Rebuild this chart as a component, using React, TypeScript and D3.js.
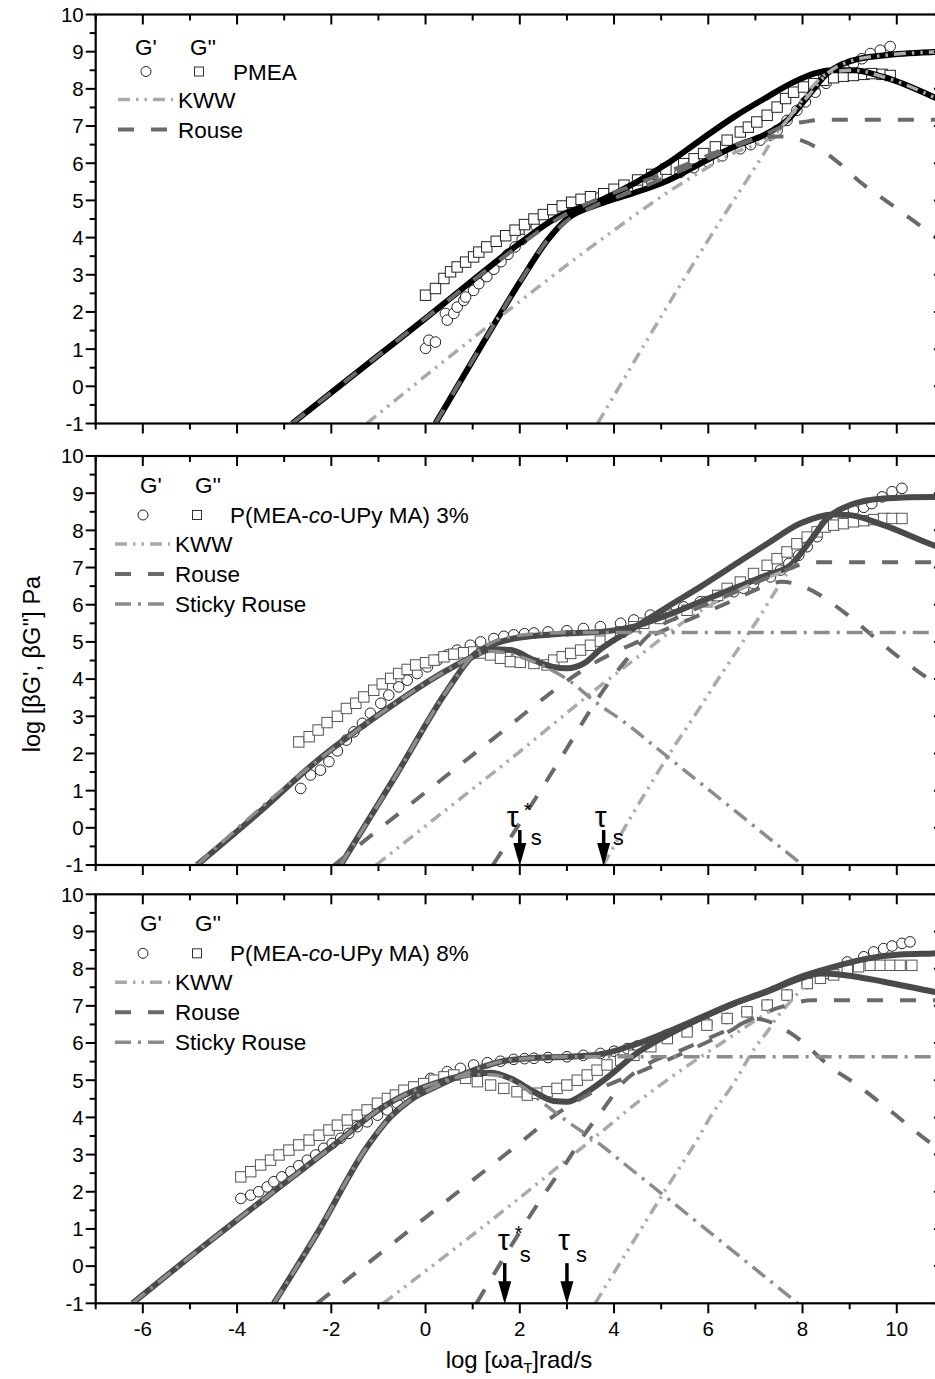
import React from 'react';
import * as d3 from 'd3';

type Pt = [number, number];

const W = 935;
const H = 1379;
const panelTops = [14.5, 456, 894.3];
const panelH = 409;
const xLeft = 95.7;
const xRight = 943.9;

// axis ticks
const xMajor = [-6, -4, -2, 0, 2, 4, 6, 8, 10];
const xMinor = [-7, -5, -3, -1, 1, 3, 5, 7, 9, 11];
const yMajor = [-1, 0, 1, 2, 3, 4, 5, 6, 7, 8, 9, 10];
const yMinor = [-0.5, 0.5, 1.5, 2.5, 3.5, 4.5, 5.5, 6.5, 7.5, 8.5, 9.5];

// ---------- top panel: PMEA ----------
const pmeaGp: Pt[] = [
  [0, 1.02], [0.07, 1.24], [0.21, 1.19], [0.42, 1.96], [0.46, 1.78], [0.6, 1.96], [0.67, 2.13],
  [0.81, 2.31], [0.85, 2.4], [1.02, 2.58], [1.13, 2.76], [1.3, 2.95], [1.45, 3.15], [1.6, 3.35],
  [1.75, 3.55], [1.9, 3.75], [2.05, 3.95], [2.2, 4.15], [2.35, 4.3], [2.5, 4.45], [2.65, 4.6],
  [2.8, 4.72], [2.95, 4.82], [3.1, 4.9], [3.25, 4.95], [3.4, 5.0], [3.55, 5.05], [3.7, 5.08],
  [3.85, 5.09], [4.14, 5.2], [4.5, 5.35], [4.8, 5.5], [5.13, 5.62], [5.4, 5.75], [5.69, 5.88],
  [6.0, 6.03], [6.3, 6.2], [6.68, 6.39], [6.9, 6.5], [7.1, 6.62], [7.3, 6.75], [7.46, 6.88],
  [7.67, 7.15], [7.88, 7.42], [8.06, 7.65], [8.27, 7.91], [8.5, 8.15], [8.7, 8.35], [8.9, 8.52],
  [9.08, 8.68], [9.26, 8.81], [9.44, 8.95], [9.65, 9.04], [9.86, 9.14],
];
const pmeaGpp: Pt[] = [
  [0, 2.45], [0.21, 2.63], [0.39, 2.9], [0.53, 3.08], [0.67, 3.21], [0.85, 3.34], [1.02, 3.48],
  [1.13, 3.61], [1.3, 3.75], [1.5, 3.9], [1.7, 4.05], [1.9, 4.2], [2.1, 4.35], [2.3, 4.5],
  [2.5, 4.62], [2.7, 4.75], [2.9, 4.85], [3.1, 4.95], [3.3, 5.03], [3.5, 5.1], [3.78, 5.18],
  [4.0, 5.3], [4.21, 5.41], [4.5, 5.55], [4.8, 5.7], [5.1, 5.84], [5.48, 5.99], [5.7, 6.12],
  [5.9, 6.26], [6.15, 6.44], [6.4, 6.62], [6.68, 6.84], [6.85, 6.97], [7.03, 7.11], [7.25, 7.29],
  [7.46, 7.51], [7.64, 7.74], [7.81, 7.91], [8.02, 8.05], [8.24, 8.14], [8.45, 8.23], [8.66, 8.3],
  [8.87, 8.34], [9.08, 8.36], [9.3, 8.39], [9.47, 8.41], [9.69, 8.39], [9.86, 8.36],
];
const pmeaFitGp: Pt[] = [
  [0.21, -1], [1.17, 1.06], [2.0, 2.8], [2.6, 3.95], [3.0, 4.5], [3.71, 4.91], [4.42, 5.2],
  [5.13, 5.53], [5.83, 5.99], [6.54, 6.44], [7.25, 6.8], [7.67, 7.15], [8.1, 7.78], [8.52, 8.41],
  [9.08, 8.77], [9.72, 8.9], [10.78, 8.99], [11, 9.0],
];
const pmeaFitGpp: Pt[] = [
  [-2.83, -1], [-1, 0.83], [0, 1.83], [1, 2.85], [2, 3.85], [2.8, 4.55], [3.71, 5.0], [4.42, 5.45],
  [5.13, 5.99], [5.83, 6.62], [6.54, 7.24], [7.25, 7.78], [7.81, 8.18], [8.24, 8.41], [8.66, 8.5],
  [9.08, 8.5], [9.72, 8.32], [10.78, 7.78], [11, 7.65],
];
const pmeaKwwGp: Pt[] = [
  [3.65, -1], [6.04, 4.02], [7.18, 6.26], [7.46, 6.83], [7.67, 7.15], [8.1, 7.78], [8.52, 8.41],
  [9.08, 8.77], [9.72, 8.9], [10.78, 8.99], [11, 9.0],
];
const pmeaKwwGpp: Pt[] = [
  [-1.25, -1], [1.17, 1.46], [3.71, 3.93], [5.3, 5.35], [6.5, 6.25], [7.46, 6.83], [7.85, 7.45],
  [8.2, 8.05], [8.6, 8.45], [9.08, 8.5], [9.72, 8.32], [10.78, 7.78], [11, 7.65],
];
const pmeaRouseGp: Pt[] = [
  [0.21, -1], [1.17, 1.06], [2.0, 2.8], [2.6, 3.95], [3.0, 4.45], [3.5, 4.8], [4.5, 5.3],
  [5.5, 5.85], [6.5, 6.4], [7.25, 6.8], [7.74, 7.06], [8.02, 7.11], [8.4, 7.17], [11, 7.17],
];
const pmeaRouseGpp: Pt[] = [
  [-2.83, -1], [0, 1.83], [2, 3.8], [2.8, 4.5], [3.5, 4.95], [4.5, 5.45], [5.5, 5.95], [6.5, 6.45],
  [7.0, 6.65], [7.5, 6.72], [7.96, 6.62], [8.66, 6.12], [9.23, 5.49], [9.86, 4.91], [10.43, 4.38],
  [11, 3.85],
];

// ---------- middle panel: P(MEA-co-UPy MA) 3% ----------
const p3Gp: Pt[] = [
  [-2.65, 1.06], [-2.44, 1.42], [-2.23, 1.55], [-2.05, 1.78], [-1.87, 2.07], [-1.68, 2.36],
  [-1.52, 2.58], [-1.34, 2.81], [-1.17, 3.08], [-0.95, 3.35], [-0.78, 3.57], [-0.57, 3.79],
  [-0.39, 3.97], [-0.18, 4.15], [0.04, 4.33], [0.25, 4.51], [0.46, 4.65], [0.67, 4.78],
  [0.95, 4.91], [1.17, 5.0], [1.45, 5.09], [1.66, 5.15], [1.87, 5.19], [2.1, 5.22], [2.3, 5.24],
  [2.6, 5.27], [3.0, 5.3], [3.35, 5.36], [3.71, 5.41], [4.14, 5.5], [4.42, 5.59], [4.77, 5.72],
  [5.13, 5.81], [5.48, 5.94], [5.83, 6.08], [6.19, 6.21], [6.54, 6.35], [6.75, 6.44],
  [6.96, 6.57], [7.32, 6.75], [7.53, 6.93], [7.71, 7.11], [7.92, 7.33], [8.1, 7.56],
  [8.31, 7.83], [8.52, 8.1], [8.73, 8.32], [9.08, 8.54], [9.3, 8.62], [9.47, 8.72],
  [9.69, 8.9], [9.9, 9.04], [10.11, 9.13],
];
const p3Gpp: Pt[] = [
  [-2.69, 2.31], [-2.47, 2.45], [-2.28, 2.63], [-2.09, 2.83], [-1.87, 3.0], [-1.68, 3.21],
  [-1.48, 3.35], [-1.31, 3.52], [-1.1, 3.7], [-0.92, 3.87], [-0.74, 4.02], [-0.57, 4.15],
  [-0.39, 4.26], [-0.21, 4.38], [0, 4.44], [0.18, 4.51], [0.39, 4.6], [0.6, 4.67], [0.81, 4.71],
  [1.02, 4.73], [1.2, 4.7], [1.38, 4.65], [1.59, 4.56], [1.8, 4.47], [2.01, 4.45], [2.3, 4.42],
  [2.58, 4.38], [2.72, 4.51], [2.9, 4.6], [3.08, 4.69], [3.29, 4.78], [3.5, 4.91], [3.71, 5.02],
  [3.92, 5.14], [4.14, 5.27], [4.42, 5.41], [4.63, 5.5], [4.98, 5.63], [5.2, 5.72], [5.55, 5.85],
  [5.97, 6.08], [6.2, 6.25], [6.4, 6.44], [6.68, 6.61], [6.96, 6.84], [7.25, 7.06], [7.46, 7.24],
  [7.67, 7.42], [7.88, 7.64], [8.1, 7.82], [8.31, 7.96], [8.48, 8.09], [8.66, 8.14], [8.87, 8.18],
  [9.08, 8.23], [9.3, 8.26], [9.51, 8.29], [9.72, 8.32], [9.9, 8.32], [10.11, 8.32],
];
const p3FitGp: Pt[] = [
  [-1.8, -1], [-0.6, 1.47], [0.46, 3.7], [1.02, 4.65], [1.31, 4.87], [1.87, 5.09], [3.0, 5.23],
  [3.71, 5.27], [4.42, 5.41], [5.13, 5.72], [5.83, 6.08], [6.54, 6.44], [7.25, 6.8], [7.74, 7.06],
  [8.17, 7.73], [8.52, 8.32], [9.01, 8.68], [9.72, 8.86], [10.78, 8.9], [11, 8.9],
];
const p3FitGpp: Pt[] = [
  [-4.85, -1], [-3.5, 0.45], [-2.37, 1.73], [-0.95, 3.08], [0.46, 4.24], [1.0, 4.6], [1.4, 4.8],
  [1.8, 4.78], [2.3, 4.51], [2.7, 4.33], [3.0, 4.29], [3.36, 4.42], [3.71, 4.8], [4.42, 5.37],
  [5.13, 5.94], [5.83, 6.48], [6.54, 7.06], [7.25, 7.64], [7.96, 8.19], [8.66, 8.43], [9.01, 8.41],
  [9.72, 8.14], [10.78, 7.6], [11, 7.5],
];
const p3StickyGp: Pt[] = [
  [-1.8, -1], [-0.6, 1.47], [0.46, 3.7], [1.02, 4.65], [1.4, 4.98], [2.0, 5.18], [3.0, 5.25],
  [11, 5.25],
];
const p3StickyGpp: Pt[] = [
  [-4.85, -1], [-2.37, 1.73], [-0.95, 3.08], [0.46, 4.24], [1.0, 4.6], [1.4, 4.75], [2.0, 4.6],
  [2.5, 4.35], [3.0, 4.0], [3.64, 3.35], [4.21, 2.85], [4.91, 2.14], [8.0, -1],
];
const p3RouseGp: Pt[] = [
  [1.43, -1], [3.0, 2.14], [3.43, 3.03], [3.85, 3.84], [4.35, 4.65], [4.84, 5.3], [5.5, 5.75],
  [6.5, 6.3], [7.5, 6.85], [8.2, 7.14], [11, 7.14],
];
const p3RouseGpp: Pt[] = [
  [-1.94, -1], [1.59, 2.55], [3.0, 3.95], [3.6, 4.45], [4.5, 5.0], [5.5, 5.55], [6.5, 6.1],
  [7.2, 6.5], [7.55, 6.62], [8.1, 6.44], [8.87, 5.81], [9.51, 5.14], [10.07, 4.56], [10.71, 3.97],
  [11, 3.7],
];
const p3KwwGp: Pt[] = [
  [3.77, -1], [5.13, 1.9], [5.83, 3.25], [6.26, 4.1], [6.68, 4.9], [7.1, 5.7], [7.39, 6.3],
  [7.67, 6.84], [7.85, 7.1],
];
const p3KwwGpp: Pt[] = [
  [-1.05, -1], [0, 0.05], [2, 2.05], [3.64, 3.75], [4.56, 4.65], [5.55, 5.6], [6.5, 6.3],
  [7.6, 6.9],
];

// ---------- bottom panel: P(MEA-co-UPy MA) 8% ----------
const p8Gp: Pt[] = [
  [-3.92, 1.82], [-3.71, 1.91], [-3.54, 2.0], [-3.36, 2.13], [-3.22, 2.27], [-3.05, 2.4],
  [-2.86, 2.54], [-2.69, 2.7], [-2.51, 2.85], [-2.33, 2.99], [-2.16, 3.17], [-1.98, 3.3],
  [-1.8, 3.44], [-1.63, 3.57], [-1.45, 3.75], [-1.24, 3.88], [-1.02, 4.06], [-0.81, 4.2],
  [-0.6, 4.38], [-0.39, 4.58], [-0.18, 4.78], [0.11, 5.05], [0.46, 5.23], [0.74, 5.32],
  [1.02, 5.41], [1.31, 5.47], [1.59, 5.51], [1.87, 5.56], [2.1, 5.58], [2.3, 5.59], [2.6, 5.61],
  [3.0, 5.63], [3.35, 5.67], [3.71, 5.72], [4.0, 5.78], [4.28, 5.85], [4.5, 5.92], [4.7, 5.99],
  [5.13, 6.17], [5.55, 6.39], [5.97, 6.53], [6.4, 6.66], [6.82, 6.84], [7.25, 7.02], [7.67, 7.29],
  [8.1, 7.6], [8.52, 7.87], [8.95, 8.18], [9.3, 8.32], [9.51, 8.45], [9.72, 8.54], [9.9, 8.61],
  [10.11, 8.68], [10.28, 8.72],
];
const p8Gpp: Pt[] = [
  [-3.92, 2.4], [-3.71, 2.54], [-3.5, 2.72], [-3.29, 2.85], [-3.11, 2.99], [-2.9, 3.12],
  [-2.69, 3.26], [-2.47, 3.39], [-2.26, 3.52], [-2.05, 3.66], [-1.87, 3.79], [-1.66, 3.93],
  [-1.45, 4.06], [-1.24, 4.2], [-1.02, 4.38], [-0.81, 4.51], [-0.64, 4.6], [-0.46, 4.73],
  [-0.25, 4.82], [-0.04, 4.91], [0.18, 5.0], [0.39, 5.09], [0.6, 5.14], [0.85, 5.05], [1.1, 4.96],
  [1.38, 4.87], [1.66, 4.78], [1.94, 4.69], [2.16, 4.6], [2.37, 4.65], [2.58, 4.69], [2.79, 4.78],
  [3.0, 4.87], [3.22, 5.0], [3.43, 5.14], [3.64, 5.27], [3.85, 5.41], [4.14, 5.54], [4.42, 5.67],
  [4.78, 5.9], [5.13, 6.12], [5.55, 6.3], [5.97, 6.48], [6.4, 6.66], [6.82, 6.84], [7.25, 7.02],
  [7.67, 7.29], [8.1, 7.6], [8.38, 7.74], [8.66, 7.83], [8.95, 7.96], [9.19, 8.05], [9.44, 8.09],
  [9.65, 8.09], [9.86, 8.09], [10.07, 8.09], [10.32, 8.09],
];
const p8FitGp: Pt[] = [
  [-3.22, -1], [-2.3, 0.88], [-1.24, 3.21], [-0.74, 4.02], [-0.32, 4.47], [0.18, 4.8],
  [0.88, 5.2], [1.59, 5.5], [2.3, 5.6], [3.0, 5.63], [3.71, 5.7], [4.42, 5.95], [5.13, 6.3],
  [5.83, 6.68], [6.54, 7.06], [7.25, 7.4], [7.96, 7.78], [8.66, 8.05], [9.37, 8.27], [10.07, 8.38],
  [10.78, 8.41], [11, 8.42],
];
const p8FitGpp: Pt[] = [
  [-6.22, -1], [-4.77, 0.48], [-3.36, 1.87], [-1.94, 3.26], [-1.1, 4.11], [-0.53, 4.55],
  [0.18, 4.91], [0.88, 5.14], [1.38, 5.2], [1.8, 5.05], [2.3, 4.69], [2.72, 4.44], [3.0, 4.42],
  [3.43, 4.69], [3.92, 5.14], [4.42, 5.67], [5.13, 6.21], [5.83, 6.66], [6.54, 7.06], [7.25, 7.38],
  [7.96, 7.74], [8.38, 7.87], [8.87, 7.83], [9.72, 7.65], [10.78, 7.38], [11, 7.33],
];
const p8StickyGp: Pt[] = [
  [-3.22, -1], [-2.3, 0.88], [-1.24, 3.21], [-0.74, 4.02], [-0.32, 4.47], [0.18, 4.8],
  [0.88, 5.2], [1.59, 5.5], [2.3, 5.6], [3.0, 5.63], [11, 5.63],
];
const p8StickyGpp: Pt[] = [
  [-6.22, -1], [-4.77, 0.48], [-3.36, 1.87], [-1.94, 3.26], [-1.1, 4.11], [-0.53, 4.55],
  [0.18, 4.91], [0.88, 5.12], [1.38, 5.15], [2.0, 4.87], [2.5, 4.38], [3.0, 3.9], [3.64, 3.34],
  [4.21, 2.76], [4.91, 2.05], [7.9, -1],
];
const p8RouseGp: Pt[] = [
  [1.08, -1], [2.65, 2.18], [3.0, 2.81], [3.36, 3.52], [3.78, 4.24], [4.21, 4.96], [4.6, 5.35],
  [5.5, 5.85], [6.5, 6.4], [7.5, 6.95], [8.2, 7.15], [11, 7.15],
];
const p8RouseGpp: Pt[] = [
  [-2.3, -1], [1.94, 3.25], [2.79, 4.1], [3.5, 4.65], [4.5, 5.2], [5.5, 5.75], [6.5, 6.35],
  [6.95, 6.66], [7.53, 6.44], [7.81, 6.21], [8.73, 5.23], [9.01, 5.0], [9.93, 4.11], [10.5, 3.52],
  [11, 3.05],
];
const p8KwwGp: Pt[] = [
  [3.6, -1], [5.2, 2.27], [5.76, 3.39], [6.11, 4.15], [6.47, 4.78], [7.03, 5.94], [7.25, 6.3],
  [7.49, 6.75], [7.74, 7.11], [8.02, 7.51],
];
const p8KwwGpp: Pt[] = [
  [-0.9, -1], [1.94, 1.78], [2.86, 2.72], [3.78, 3.66], [4.56, 4.47], [4.98, 4.87], [5.48, 5.32],
  [6.4, 6.1], [6.75, 6.4], [7.3, 6.85],
];

// relaxation time markers: tau*_s and tau_s positions, arrow top and label baseline (y units)
const tauStarX = [2.0, 1.68];
const tauX = [3.78, 3.0];
const arrowTopY = [-0.06, 0.08];
const tauLabelY = [0.02, 0.43];

const x = d3.scaleLinear().domain([-7, 11]).range([xLeft, xRight]);
const lineGen = (y: d3.ScaleLinear<number, number>) =>
  d3.line<Pt>().x(d => x(d[0])).y(d => y(d[1])).curve(d3.curveMonotoneX);

const font = "'Liberation Sans', Arial, sans-serif";
const styles = {
  kww: { stroke: '#aaaaaa', width: 3.5, dash: '12 6 2.5 6 2.5 6' },
  rouse: { stroke: '#6a6a6a', width: 4, dash: '16 17' },
  sticky: { stroke: '#8c8c8c', width: 3.5, dash: '16 7 3 7' },
};

type PanelSpec = {
  top: number;
  gp: Pt[];
  gpp: Pt[];
  fits: Pt[][];
  fitColor: string;
  kww: Pt[][];
  rouse: Pt[][];
  sticky: Pt[][] | null;
  name: React.ReactNode;
};

const coName = (pct: string) => (
  <>
    P(MEA-<tspan fontStyle="italic">co</tspan>-UPy MA) {pct}
  </>
);

const panels: PanelSpec[] = [
  {
    top: panelTops[0], gp: pmeaGp, gpp: pmeaGpp, fits: [pmeaFitGp, pmeaFitGpp], fitColor: '#000',
    kww: [pmeaKwwGp, pmeaKwwGpp], rouse: [pmeaRouseGp, pmeaRouseGpp], sticky: null,
    name: 'PMEA',
  },
  {
    top: panelTops[1], gp: p3Gp, gpp: p3Gpp, fits: [p3FitGp, p3FitGpp], fitColor: '#4a4a4a',
    kww: [p3KwwGp, p3KwwGpp], rouse: [p3RouseGp, p3RouseGpp], sticky: [p3StickyGp, p3StickyGpp],
    name: coName('3%'),
  },
  {
    top: panelTops[2], gp: p8Gp, gpp: p8Gpp, fits: [p8FitGp, p8FitGpp], fitColor: '#4a4a4a',
    kww: [p8KwwGp, p8KwwGpp], rouse: [p8RouseGp, p8RouseGpp], sticky: [p8StickyGp, p8StickyGpp],
    name: coName('8%'),
  },
];

function Panel({ spec, idx }: { spec: PanelSpec; idx: number }) {
  const { top } = spec;
  const bottom = top + panelH;
  const y = d3.scaleLinear().domain([-1, 10]).range([bottom, top]);
  const line = lineGen(y);
  const clipId = `clip${idx}`;
  const isBottom = idx === 2;
  const comp = (data: Pt[][], s: { stroke: string; width: number; dash: string }, key: string) =>
    data.map((d, i) => (
      <path key={key + i} d={line(d) || ''} fill="none" stroke={s.stroke} strokeWidth={s.width}
        strokeDasharray={s.dash} />
    ));
  // legend rows
  const lx0 = idx === 0 ? 118 : 115;
  const lx1 = lx0 + 55;
  const rowY = (k: number) => top + (idx === 0 ? 85 : 88) + k * 30;
  const symY = top + (idx === 0 ? 57 : 59);
  const headBase = top + (idx === 0 ? 40.5 : 37);
  return (
    <g>
      <defs>
        <clipPath id={clipId}>
          <rect x={xLeft} y={top} width={xRight - xLeft} height={panelH} />
        </clipPath>
      </defs>
      <g clipPath={`url(#${clipId})`}>
        {spec.gp.map((d, i) => (
          <circle key={'c' + i} cx={x(d[0])} cy={y(d[1])} r={5.3} fill="#fff" stroke="#222" strokeWidth={1} />
        ))}
        {spec.gpp.map((d, i) => (
          <rect key={'s' + i} x={x(d[0]) - 5.2} y={y(d[1]) - 5.2} width={10.4} height={10.4} fill="#fff"
            stroke={idx === 0 ? '#222' : '#555'} strokeWidth={1} />
        ))}
        {spec.fits.map((d, i) => (
          <path key={'f' + i} d={line(d) || ''} fill="none" stroke={spec.fitColor} strokeWidth={6} />
        ))}
        {comp(spec.kww, styles.kww, 'k')}
        {comp(spec.rouse, styles.rouse, 'r')}
        {spec.sticky ? comp(spec.sticky, styles.sticky, 'st') : null}
      </g>
      {/* frame */}
      <rect x={xLeft} y={top} width={xRight - xLeft} height={panelH} fill="none" stroke="#000" strokeWidth={2.2} />
      {/* y ticks */}
      {yMajor.map(v => (
        <g key={'ym' + v}>
          <line x1={xLeft - 10} x2={xLeft} y1={y(v)} y2={y(v)} stroke="#000" strokeWidth={2} />
          <line x1={xRight - 10} x2={xRight} y1={y(v)} y2={y(v)} stroke="#000" strokeWidth={2} />
          <text x={xLeft - 12} y={y(v)} dy="0.36em" textAnchor="end" fontSize={20.5} fontFamily={font}>{v}</text>
        </g>
      ))}
      {yMinor.map(v => (
        <g key={'yn' + v}>
          <line x1={xLeft - 6} x2={xLeft} y1={y(v)} y2={y(v)} stroke="#000" strokeWidth={2} />
          <line x1={xRight - 6} x2={xRight} y1={y(v)} y2={y(v)} stroke="#000" strokeWidth={2} />
        </g>
      ))}
      {/* x ticks */}
      {xMajor.map(v => (
        <g key={'xm' + v}>
          <line x1={x(v)} x2={x(v)} y1={bottom} y2={bottom + 10} stroke="#000" strokeWidth={2} />
          <line x1={x(v)} x2={x(v)} y1={top} y2={top + 10} stroke="#000" strokeWidth={2} />
          {isBottom ? (
            <text x={x(v)} y={bottom + 33} textAnchor="middle" fontSize={20.5} fontFamily={font}>{v}</text>
          ) : null}
        </g>
      ))}
      {xMinor.map(v => (
        <g key={'xn' + v}>
          <line x1={x(v)} x2={x(v)} y1={bottom} y2={bottom + 6} stroke="#000" strokeWidth={2} />
          <line x1={x(v)} x2={x(v)} y1={top} y2={top + 6} stroke="#000" strokeWidth={2} />
        </g>
      ))}
      {/* legend */}
      <g fontFamily={font} fontSize={22.5}>
        <text x={idx === 0 ? 135 : 140} y={headBase}>G'</text>
        <text x={idx === 0 ? 190 : 195} y={headBase}>G''</text>
        <circle cx={idx === 0 ? 146 : 143} cy={symY} r={5} fill="#fff" stroke="#222" strokeWidth={1} />
        <rect x={(idx === 0 ? 199 : 197) - 4.5} y={symY - 4.5} width={9} height={9} fill="#fff" stroke="#333" strokeWidth={1} />
        <text x={idx === 0 ? 233 : 230} y={symY + 8}>{spec.name}</text>
        {[
          { s: styles.kww, label: 'KWW' },
          { s: styles.rouse, label: 'Rouse' },
          ...(spec.sticky ? [{ s: styles.sticky, label: 'Sticky Rouse' }] : []),
        ].map((r, k) => (
          <g key={r.label}>
            <line x1={lx0} x2={lx1} y1={rowY(k)} y2={rowY(k)} stroke={r.s.stroke} strokeWidth={r.s.width}
              strokeDasharray={r.s.dash} />
            <text x={lx1 + 5} y={rowY(k) + 8}>{r.label}</text>
          </g>
        ))}
      </g>
      {/* tau markers */}
      {idx > 0 ? (
        <g fontFamily={font}>
          {[tauStarX[idx - 1], tauX[idx - 1]].map((tx, k) => {
            const ax = x(tx);
            const aTop = y(arrowTopY[idx - 1]);
            const lb = y(tauLabelY[idx - 1]);
            const tauDx = idx === 1 ? (k === 0 ? -7 : -3) : (k === 0 ? -1 : -3);
            const sDx = idx === 1 ? (k === 0 ? 11 : 9) : (k === 0 ? 15 : 9);
            const sDy = idx === 1 ? 18 : 12;
            return (
              <g key={'tau' + k}>
                <line x1={ax} x2={ax} y1={aTop} y2={bottom - 18} stroke="#000" strokeWidth={3.5} />
                <path d={`M${ax - 6.5},${bottom - 22} L${ax + 6.5},${bottom - 22} L${ax},${bottom + 1} Z`} fill="#000" />
                <text x={ax + tauDx} y={lb} textAnchor="middle" fontSize={30}>τ</text>
                {k === 0 ? <text x={ax + tauDx + 11} y={lb - 10} fontSize={20}>*</text> : null}
                <text x={ax + sDx} y={lb + sDy} fontSize={22}>s</text>
              </g>
            );
          })}
        </g>
      ) : null}
    </g>
  );
}

export default function App() {
  return (
    <svg width={W} height={H} style={{ position: 'absolute', left: 0, top: 0, background: '#fff' }}>
      <rect x={0} y={0} width={W} height={H} fill="#fff" />
      {panels.map((p, i) => <Panel key={i} spec={p} idx={i} />)}
      <text transform="translate(40,664) rotate(-90)" textAnchor="middle" fontFamily={font} fontSize={23.5}>
        log [βG', βG''] Pa
      </text>
      <text x={519} y={1368} textAnchor="middle" fontFamily={font} fontSize={24}>
        log [ωa<tspan fontSize={15} dy={5}>T</tspan><tspan dy={-5}>]rad/s</tspan>
      </text>
    </svg>
  );
}
